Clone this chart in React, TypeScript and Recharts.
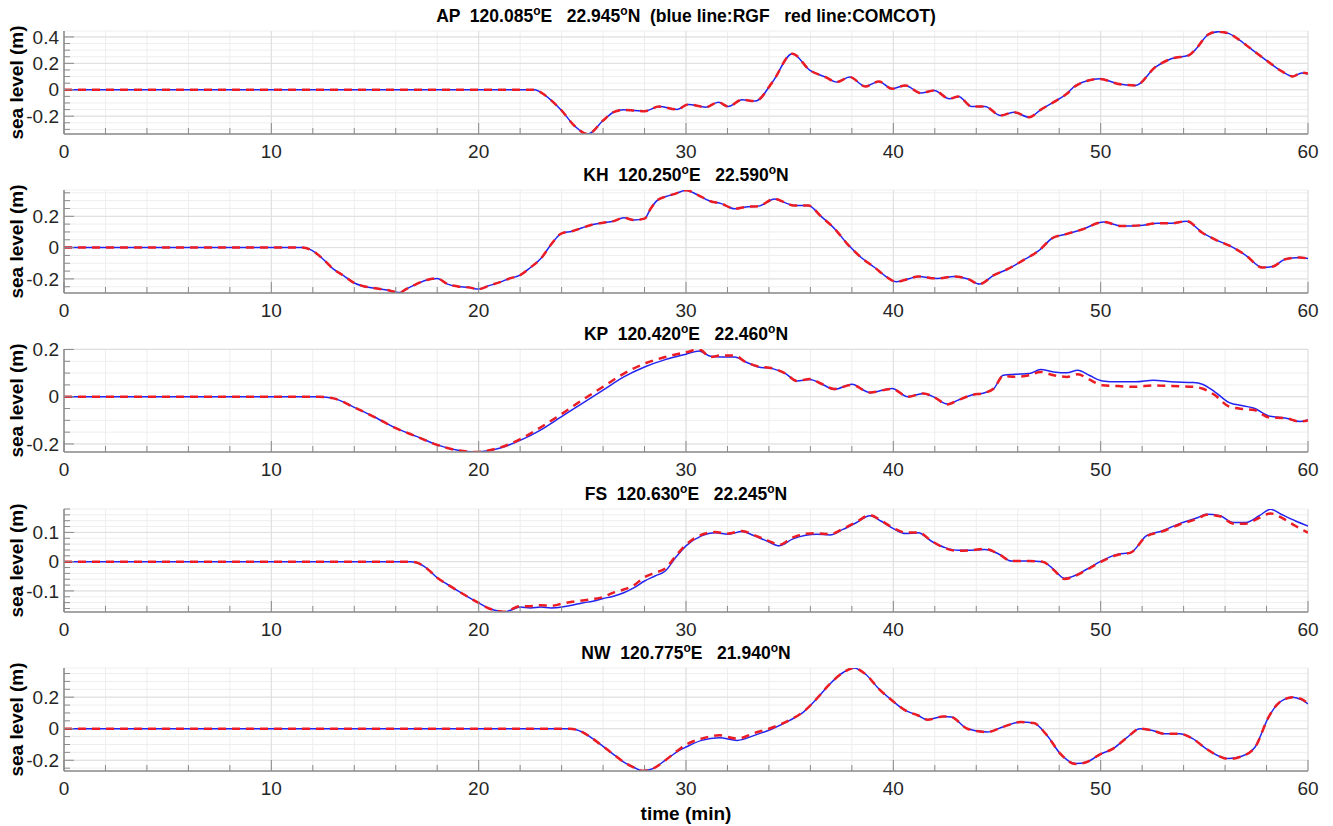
import { LineChart, Line, XAxis, YAxis, CartesianGrid, ReferenceLine } from 'recharts'

// time axis (min)
const X_TICKS = [0, 2, 4, 6, 8, 10, 12, 14, 16, 18, 20, 22, 24, 26, 28, 30, 32, 34, 36, 38, 40, 42, 44, 46, 48, 50, 52, 54, 56, 58, 60]
const X_MAJOR = [0, 10, 20, 30, 40, 50, 60]

// AP station
const AP_TIME = [0, 22.7, 23, 23.5, 24, 24.6, 25.27, 26, 26.5, 27, 27.5, 28, 28.7, 29.57, 30.1, 30.96, 31.56, 32.03, 32.7, 33.35, 34.17, 35.13, 35.98, 36.73, 37.26, 37.9, 38.65, 39.3, 39.94, 40.58, 41.32, 41.97, 42.7, 43.14, 43.78, 44.42, 45.17, 45.8, 46.56, 47.1, 47.73, 48.37, 48.8, 49.97, 50.8, 51.69, 52.64, 53.4, 54.25, 54.57, 55.2, 55.7, 56.2, 56.6, 57.24, 58.1, 58.74, 59.27, 59.7, 60]
const AP_RGF = [0, 0, -0.02, -0.08, -0.157, -0.27, -0.335, -0.233, -0.17, -0.152, -0.157, -0.162, -0.127, -0.149, -0.111, -0.132, -0.094, -0.127, -0.076, -0.086, 0.058, 0.273, 0.147, 0.096, 0.058, 0.096, 0.025, 0.063, 0.008, 0.033, -0.025, -0.005, -0.068, -0.051, -0.127, -0.127, -0.195, -0.17, -0.208, -0.152, -0.094, -0.03, 0.033, 0.084, 0.046, 0.033, 0.172, 0.235, 0.261, 0.304, 0.42, 0.44, 0.425, 0.387, 0.311, 0.21, 0.139, 0.101, 0.127, 0.122]
const AP_COMCOT = [0, 0, -0.02, -0.08, -0.157, -0.27, -0.335, -0.233, -0.17, -0.152, -0.157, -0.162, -0.127, -0.149, -0.111, -0.132, -0.094, -0.127, -0.076, -0.086, 0.058, 0.273, 0.147, 0.096, 0.058, 0.096, 0.025, 0.063, 0.008, 0.033, -0.025, -0.005, -0.068, -0.051, -0.127, -0.127, -0.195, -0.17, -0.208, -0.152, -0.094, -0.03, 0.03, 0.082, 0.046, 0.033, 0.172, 0.235, 0.261, 0.304, 0.42, 0.44, 0.425, 0.387, 0.311, 0.21, 0.139, 0.101, 0.13, 0.122]
const AP_DOMAIN = [-0.335, 0.445]
const AP_Y_TICKS = [-0.3, -0.25, -0.2, -0.15, -0.1, -0.05, 0, 0.05, 0.1, 0.15, 0.2, 0.25, 0.3, 0.35, 0.4]
const AP_Y_MAJOR = [-0.2, 0, 0.2, 0.4]

// KH station
const KH_TIME = [0, 11.5, 12, 12.5, 13, 13.5, 14, 14.5, 15, 15.5, 16.2, 16.5, 17, 17.5, 18, 18.5, 19, 19.5, 20, 20.5, 21, 21.5, 22, 22.5, 23, 23.5, 24, 24.5, 25, 25.5, 26, 26.5, 27, 27.5, 28, 28.3, 28.6, 29, 29.5, 30, 30.53, 31.18, 31.7, 32.35, 32.88, 33.5, 34.27, 34.8, 35.2, 35.9, 36.5, 37.2, 37.8, 38.45, 39.1, 39.6, 40.15, 40.8, 41.2, 42.1, 42.95, 43.6, 44.15, 44.85, 45.5, 46.35, 47, 47.7, 48.3, 49.1, 50.15, 51, 51.9, 52.75, 53.4, 54.15, 54.9, 55.5, 56.4, 57, 57.8, 58.3, 58.9, 59.6, 60]
const KH_RGF = [0, 0, -0.021, -0.074, -0.138, -0.18, -0.226, -0.248, -0.26, -0.269, -0.287, -0.265, -0.233, -0.207, -0.197, -0.233, -0.248, -0.254, -0.265, -0.243, -0.222, -0.197, -0.176, -0.127, -0.07, 0.021, 0.091, 0.104, 0.127, 0.148, 0.159, 0.169, 0.19, 0.176, 0.185, 0.25, 0.3, 0.325, 0.345, 0.366, 0.339, 0.296, 0.281, 0.248, 0.26, 0.265, 0.311, 0.286, 0.269, 0.269, 0.201, 0.116, 0.021, -0.063, -0.127, -0.18, -0.218, -0.197, -0.184, -0.197, -0.184, -0.201, -0.233, -0.176, -0.138, -0.074, -0.021, 0.063, 0.085, 0.116, 0.163, 0.138, 0.142, 0.155, 0.155, 0.169, 0.095, 0.053, 0, -0.049, -0.127, -0.121, -0.074, -0.063, -0.07]
const KH_COMCOT = [0, 0, -0.021, -0.074, -0.138, -0.18, -0.226, -0.248, -0.26, -0.269, -0.287, -0.265, -0.233, -0.207, -0.197, -0.233, -0.248, -0.254, -0.265, -0.243, -0.222, -0.197, -0.176, -0.127, -0.07, 0.021, 0.091, 0.104, 0.127, 0.148, 0.159, 0.169, 0.19, 0.176, 0.185, 0.25, 0.3, 0.325, 0.345, 0.366, 0.339, 0.296, 0.281, 0.248, 0.26, 0.265, 0.311, 0.286, 0.269, 0.269, 0.201, 0.116, 0.021, -0.063, -0.127, -0.18, -0.218, -0.197, -0.184, -0.197, -0.184, -0.201, -0.233, -0.176, -0.138, -0.074, -0.021, 0.063, 0.085, 0.116, 0.163, 0.138, 0.142, 0.155, 0.155, 0.169, 0.095, 0.053, 0, -0.049, -0.127, -0.121, -0.074, -0.063, -0.07]
const KH_DOMAIN = [-0.29, 0.368]
const KH_Y_TICKS = [-0.25, -0.2, -0.15, -0.1, -0.05, 0, 0.05, 0.1, 0.15, 0.2, 0.25, 0.3, 0.35]
const KH_Y_MAJOR = [-0.2, 0, 0.2]

// KP station
const KP_TIME = [0, 12.3, 13, 14, 15, 16, 17, 18, 19, 19.8, 21, 22, 23, 24, 25, 26, 27, 28, 29, 30, 30.64, 31.18, 31.7, 32.35, 32.88, 33.5, 34.17, 34.8, 35.34, 35.98, 36.5, 37.16, 38, 38.87, 39.94, 40.7, 41.45, 41.99, 42.6, 43.14, 43.78, 44.42, 44.85, 45.3, 45.9, 46.56, 47.1, 47.73, 48.37, 48.9, 49.44, 50.08, 50.83, 51.69, 52.54, 53.4, 54.47, 54.9, 55.5, 56.2, 56.9, 57.4, 58.1, 58.95, 59.6, 60]
const KP_RGF = [0, 0, -0.007, -0.045, -0.087, -0.133, -0.168, -0.204, -0.227, -0.234, -0.218, -0.185, -0.14, -0.084, -0.028, 0.028, 0.084, 0.126, 0.157, 0.18, 0.194, 0.171, 0.168, 0.168, 0.147, 0.126, 0.119, 0.098, 0.067, 0.073, 0.056, 0.031, 0.053, 0.017, 0.035, 0, 0.014, -0.003, -0.031, -0.014, 0.007, 0.017, 0.035, 0.091, 0.095, 0.098, 0.115, 0.105, 0.101, 0.112, 0.091, 0.067, 0.063, 0.063, 0.07, 0.063, 0.06, 0.053, 0.021, -0.025, -0.039, -0.049, -0.081, -0.091, -0.105, -0.098]
const KP_COMCOT = [0, 0, -0.007, -0.045, -0.087, -0.133, -0.168, -0.204, -0.227, -0.234, -0.216, -0.18, -0.129, -0.073, -0.014, 0.042, 0.098, 0.14, 0.168, 0.188, 0.2, 0.168, 0.175, 0.174, 0.147, 0.128, 0.12, 0.098, 0.067, 0.075, 0.056, 0.033, 0.05, 0.018, 0.033, 0, 0.014, -0.003, -0.033, -0.014, 0.007, 0.017, 0.035, 0.088, 0.084, 0.091, 0.105, 0.091, 0.084, 0.095, 0.073, 0.049, 0.045, 0.042, 0.048, 0.045, 0.042, 0.035, 0.007, -0.042, -0.052, -0.056, -0.087, -0.091, -0.105, -0.101]
const KP_DOMAIN = [-0.234, 0.202]
const KP_Y_TICKS = [-0.2, -0.15, -0.1, -0.05, 0, 0.05, 0.1, 0.15, 0.2]
const KP_Y_MAJOR = [-0.2, 0, 0.2]

// FS station
const FS_TIME = [0, 16.7, 17, 17.5, 18, 18.5, 19, 19.5, 20, 20.5, 21, 21.3, 21.5, 22, 22.5, 23, 23.5, 24, 24.5, 25, 25.5, 26, 26.5, 27, 27.5, 28, 28.5, 29, 29.5, 30, 30.75, 31.4, 32.03, 32.7, 33.3, 33.95, 34.5, 35.13, 35.77, 36.3, 36.94, 37.59, 38.23, 38.87, 39.4, 40.05, 40.58, 41.2, 41.86, 42.5, 43.14, 43.78, 44.42, 45.06, 45.7, 46.56, 47.2, 47.73, 48.26, 48.7, 49.33, 49.97, 50.8, 51.45, 52.2, 52.96, 53.8, 54.7, 55.1, 55.75, 56.4, 57, 57.65, 58.2, 58.7, 59.4, 60]
const FS_RGF = [0, 0, -0.003, -0.023, -0.055, -0.078, -0.1, -0.121, -0.141, -0.16, -0.169, -0.171, -0.167, -0.155, -0.158, -0.155, -0.158, -0.155, -0.149, -0.141, -0.135, -0.126, -0.118, -0.106, -0.089, -0.066, -0.049, -0.032, 0.014, 0.054, 0.088, 0.099, 0.094, 0.103, 0.088, 0.069, 0.054, 0.077, 0.09, 0.094, 0.091, 0.111, 0.134, 0.157, 0.139, 0.111, 0.096, 0.099, 0.069, 0.048, 0.039, 0.039, 0.042, 0.027, 0.002, 0.002, 0, -0.026, -0.057, -0.049, -0.026, 0, 0.025, 0.031, 0.088, 0.105, 0.13, 0.151, 0.162, 0.157, 0.134, 0.134, 0.157, 0.179, 0.162, 0.139, 0.122]
const FS_COMCOT = [0, 0, -0.003, -0.023, -0.055, -0.078, -0.1, -0.121, -0.141, -0.16, -0.169, -0.171, -0.165, -0.152, -0.152, -0.149, -0.151, -0.144, -0.137, -0.133, -0.128, -0.121, -0.106, -0.095, -0.08, -0.053, -0.038, -0.023, 0.019, 0.058, 0.092, 0.101, 0.096, 0.105, 0.09, 0.072, 0.058, 0.082, 0.095, 0.097, 0.094, 0.113, 0.136, 0.159, 0.141, 0.113, 0.1, 0.1, 0.07, 0.046, 0.037, 0.039, 0.044, 0.027, 0.002, 0.002, 0, -0.028, -0.059, -0.051, -0.028, -0.002, 0.023, 0.031, 0.086, 0.103, 0.127, 0.148, 0.16, 0.155, 0.13, 0.13, 0.15, 0.165, 0.151, 0.122, 0.099]
const FS_DOMAIN = [-0.172, 0.18]
const FS_Y_TICKS = [-0.16, -0.14, -0.12, -0.1, -0.08, -0.06, -0.04, -0.02, 0, 0.02, 0.04, 0.06, 0.08, 0.1, 0.12, 0.14, 0.16, 0.18]
const FS_Y_MAJOR = [-0.1, 0, 0.1]

// NW station
const NW_TIME = [0, 24.4, 25, 25.5, 26, 26.5, 27, 27.5, 27.9, 28.4, 29.04, 29.68, 30, 30.75, 31.6, 32.46, 33.3, 34.17, 35, 35.66, 36.3, 36.94, 37.6, 38.1, 38.65, 39.3, 39.94, 40.58, 41.2, 41.65, 42.4, 42.8, 43.57, 44.53, 45.28, 46.13, 46.77, 47.41, 48.05, 48.8, 49.33, 49.97, 50.6, 51.26, 51.9, 52.5, 53.06, 53.8, 54.44, 55.08, 55.73, 56.16, 56.8, 57.45, 58.1, 58.63, 59.27, 59.7, 60]
const NW_RGF = [0, 0, -0.021, -0.063, -0.112, -0.162, -0.211, -0.246, -0.267, -0.253, -0.196, -0.137, -0.116, -0.074, -0.057, -0.074, -0.042, 0, 0.053, 0.105, 0.189, 0.284, 0.358, 0.385, 0.347, 0.253, 0.179, 0.116, 0.084, 0.057, 0.078, 0.074, 0, -0.021, 0.011, 0.042, 0.036, -0.042, -0.158, -0.221, -0.211, -0.162, -0.126, -0.057, 0, -0.011, -0.032, -0.032, -0.063, -0.126, -0.175, -0.189, -0.175, -0.116, 0.074, 0.168, 0.2, 0.183, 0.158]
const NW_COMCOT = [0, 0, -0.021, -0.063, -0.112, -0.162, -0.211, -0.246, -0.267, -0.253, -0.196, -0.13, -0.101, -0.063, -0.042, -0.063, -0.027, 0.008, 0.055, 0.107, 0.19, 0.284, 0.358, 0.385, 0.347, 0.253, 0.179, 0.116, 0.084, 0.057, 0.078, 0.074, 0, -0.021, 0.011, 0.042, 0.036, -0.042, -0.158, -0.224, -0.211, -0.162, -0.126, -0.057, 0, -0.011, -0.032, -0.032, -0.063, -0.126, -0.175, -0.192, -0.175, -0.116, 0.074, 0.168, 0.2, 0.188, 0.158]
const NW_DOMAIN = [-0.268, 0.385]
const NW_Y_TICKS = [-0.25, -0.2, -0.15, -0.1, -0.05, 0, 0.05, 0.1, 0.15, 0.2, 0.25, 0.3, 0.35]
const NW_Y_MAJOR = [-0.2, 0, 0.2]

const PANELS = [
  { name: 'AP', lon: '120.085', lat: '22.945', note: '  (blue line:RGF   red line:COMCOT)', time: AP_TIME, rgf: AP_RGF, comcot: AP_COMCOT, domain: AP_DOMAIN, ticks: AP_Y_TICKS, major: AP_Y_MAJOR },
  { name: 'KH', lon: '120.250', lat: '22.590', note: '', time: KH_TIME, rgf: KH_RGF, comcot: KH_COMCOT, domain: KH_DOMAIN, ticks: KH_Y_TICKS, major: KH_Y_MAJOR },
  { name: 'KP', lon: '120.420', lat: '22.460', note: '', time: KP_TIME, rgf: KP_RGF, comcot: KP_COMCOT, domain: KP_DOMAIN, ticks: KP_Y_TICKS, major: KP_Y_MAJOR },
  { name: 'FS', lon: '120.630', lat: '22.245', note: '', time: FS_TIME, rgf: FS_RGF, comcot: FS_COMCOT, domain: FS_DOMAIN, ticks: FS_Y_TICKS, major: FS_Y_MAJOR },
  { name: 'NW', lon: '120.775', lat: '21.940', note: '', time: NW_TIME, rgf: NW_RGF, comcot: NW_COMCOT, domain: NW_DOMAIN, ticks: NW_Y_TICKS, major: NW_Y_MAJOR },
]

const FONT = "'Liberation Sans', Arial, Helvetica, sans-serif"
const AXIS = '#8a8a8a'
const TEXT = '#262626'
const W = 1333
const PLOT_LEFT = 64
const PLOT_RIGHT = 1308
const PLOT_H = 103
const PLOT_TOPS = [31, 190, 349, 509, 668]
const PAD_TOP = 10
const X_AXIS_H = 32

const isMajor = (list: number[], v: number) => list.some(m => Math.abs(m - v) < 1e-9)

function XTick(props: any) {
  const { x, y, payload } = props
  const major = isMajor(X_MAJOR, payload.value)
  return (
    <g>
      <line x1={x} x2={x} y1={y} y2={y - (major ? 11 : 6)} stroke={AXIS} strokeWidth={1} />
      {major && (
        <text x={x} y={y + 24} textAnchor="middle" fontSize={19} fontFamily={FONT} fill={TEXT}>
          {payload.value}
        </text>
      )}
    </g>
  )
}

function makeYTick(majors: number[]) {
  return function YTick(props: any) {
    const { x, y, payload } = props
    const major = isMajor(majors, payload.value)
    return (
      <g>
        <line x1={x} x2={x + (major ? 10 : 6)} y1={y} y2={y} stroke={AXIS} strokeWidth={1} />
        {major && (
          <text x={x - 5} y={y} dy="0.35em" textAnchor="end" fontSize={19} fontFamily={FONT} fill={TEXT}>
            {String(payload.value)}
          </text>
        )}
      </g>
    )
  }
}

function Panel({ p, top }: { p: (typeof PANELS)[number]; top: number }) {
  const data = p.time.map((t, i) => ({ t, rgf: p.rgf[i], comcot: p.comcot[i] }))
  return (
    <div style={{ position: 'absolute', left: 0, top: top - PAD_TOP }}>
      <LineChart
        width={W}
        height={PAD_TOP + PLOT_H + X_AXIS_H}
        data={data}
        margin={{ top: PAD_TOP, right: W - PLOT_RIGHT, bottom: 0, left: 0 }}
      >
        <CartesianGrid stroke="#eeeeee" strokeWidth={1} />
        {X_MAJOR.map(v => (
          <ReferenceLine key={'x' + v} x={v} stroke="#dedede" strokeWidth={1} />
        ))}
        {p.major.map(v => (
          <ReferenceLine key={'y' + v} y={v} stroke="#dedede" strokeWidth={1} />
        ))}
        <XAxis
          dataKey="t"
          type="number"
          domain={[0, 60]}
          ticks={X_TICKS}
          interval={0}
          height={X_AXIS_H}
          tickSize={0}
          tickMargin={0}
          tickLine={false}
          tick={XTick}
          axisLine={{ stroke: AXIS, strokeWidth: 1.5 }}
          allowDataOverflow
        />
        <YAxis
          type="number"
          domain={p.domain}
          ticks={p.ticks}
          interval={0}
          width={PLOT_LEFT}
          tickSize={0}
          tickMargin={0}
          tickLine={false}
          tick={makeYTick(p.major)}
          axisLine={{ stroke: AXIS, strokeWidth: 1.5 }}
          allowDataOverflow
        />
        <Line
          dataKey="rgf"
          type="monotone"
          stroke="#2323f0"
          strokeWidth={1.5}
          dot={false}
          isAnimationActive={false}
        />
        <Line
          dataKey="comcot"
          type="monotone"
          stroke="#ec1c24"
          strokeWidth={2.5}
          strokeDasharray="8 6"
          dot={false}
          isAnimationActive={false}
        />
      </LineChart>
    </div>
  )
}

function Labels() {
  const cx = (PLOT_LEFT + PLOT_RIGHT) / 2
  return (
    <svg width={W} height={826} style={{ position: 'absolute', left: 0, top: 0, pointerEvents: 'none' }}>
      {PANELS.map((p, i) => {
        const top = PLOT_TOPS[i]
        return (
          <g key={p.name}>
            <text
              x={cx}
              y={top - 9}
              textAnchor="middle"
              fontSize={17.5}
              fontWeight="bold"
              fontFamily={FONT}
              fill="#000"
              style={{ whiteSpace: 'pre' }}
            >
              {p.name + '  ' + p.lon}
              <tspan dy={-7} fontSize={12}>o</tspan>
              <tspan dy={7}>{'E   ' + p.lat}</tspan>
              <tspan dy={-7} fontSize={12}>o</tspan>
              <tspan dy={7}>{'N' + p.note}</tspan>
            </text>
            <text
              x={23}
              y={top + PLOT_H / 2}
              transform={`rotate(-90 23 ${top + PLOT_H / 2})`}
              textAnchor="middle"
              fontSize={19}
              fontWeight="bold"
              fontFamily={FONT}
              fill="#000"
            >
              sea level (m)
            </text>
          </g>
        )
      })}
      <text x={cx} y={820} textAnchor="middle" fontSize={19} fontWeight="bold" fontFamily={FONT} fill="#000">
        time (min)
      </text>
    </svg>
  )
}

export default function App() {
  return (
    <div style={{ position: 'absolute', left: 0, top: 0, width: W, height: 826, background: '#fff' }}>
      {PANELS.map((p, i) => (
        <Panel key={p.name} p={p} top={PLOT_TOPS[i]} />
      ))}
      <Labels />
    </div>
  )
}
